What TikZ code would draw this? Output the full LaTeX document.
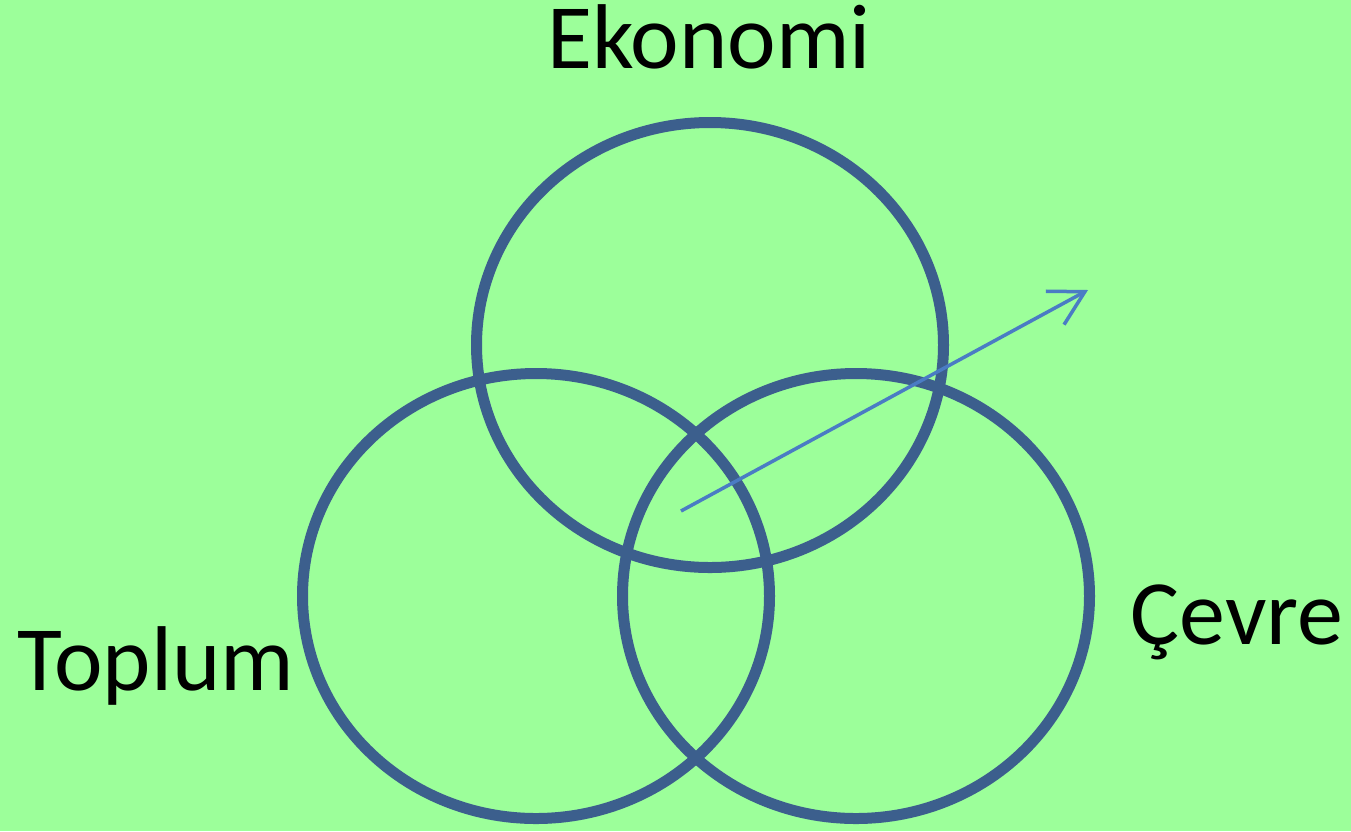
\documentclass[tikz,border=0pt]{standalone}
\usepackage{fontspec}
\setmainfont{Carlito}
\usetikzlibrary{shapes.geometric,arrows.meta}
\definecolor{bg}{HTML}{9CFF9A}
\definecolor{ring}{HTML}{3C5F8D}
\definecolor{arr}{HTML}{4A7CC4}
\tikzset{
  ring/.style={draw=ring, line width=11pt, ellipse, inner sep=0pt,
    minimum width=467pt, minimum height=445pt},
  lbl/.style={inner sep=0pt, anchor=base, font=\fontsize{92}{100}\selectfont, text=black},
}
\begin{document}
\begin{tikzpicture}[x=1pt,y=-1pt]
\fill[bg] (0,0) rectangle (1351,831);
\useasboundingbox (0,0) rectangle (1351,831);
\node[ring] (eko) at (710,345) {};
\node[ring] (top) at (536,596) {};
\node[ring] (cev) at (856,596) {};
\node[lbl] (lE) at (709,68) {Ekonomi};
\node[lbl] (lT) at (156,690) {Toplum};
\node[lbl] (lC) at (1237,644) {Çevre};
\coordinate (a0) at (681,511);
\coordinate (a1) at (1088,290);
\draw[arr, line width=3.5pt, -{Straight Barb[length=34pt,width=38pt,line width=3.5pt]}] (a0) -- (a1);
\end{tikzpicture}
\end{document}
